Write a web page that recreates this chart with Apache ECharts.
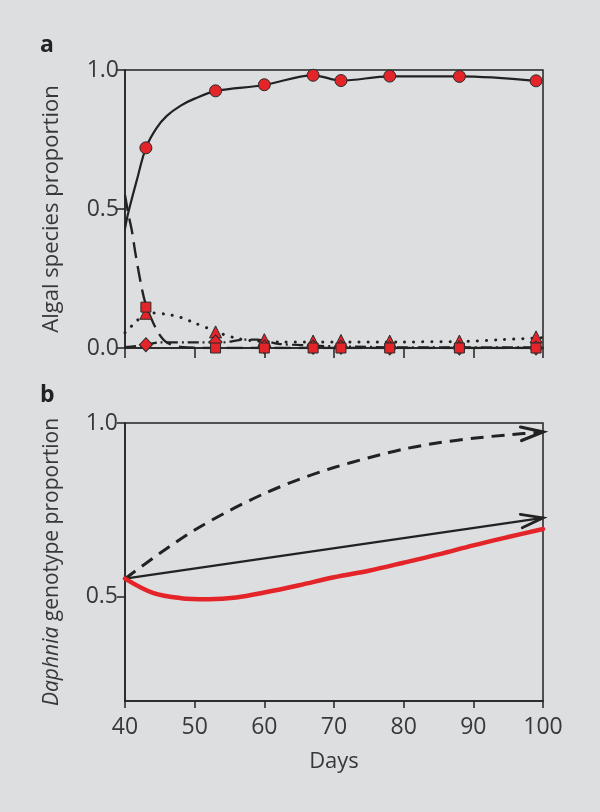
<!DOCTYPE html>
<html><head><meta charset="utf-8">
<script src="https://cdn.jsdelivr.net/npm/echarts@6/dist/echarts.min.js"></script>
<style>html,body{margin:0;padding:0;background:#dddee0}#c{width:600px;height:812px}</style>
</head><body><div id="c"></div>
<script>
// ---------- Panel a : algal species proportion ----------
const sampleDays = [43, 53, 60, 67, 71, 78, 88, 99];
const circleVals   = [0.72, 0.925, 0.947, 0.981, 0.962, 0.978, 0.977, 0.961];
const squareVals   = [0.147, 0, 0, 0, 0, 0, 0, 0];
const triangleVals = [0.125, 0.058, 0.03, 0.025, 0.027, 0.025, 0.025, 0.04];
const diamondVals  = [0.012, 0.022, 0.004, 0.003, 0.003, 0.0, 0.0, 0.0];

// fitted curves
const solidFitDays = [40, 40.5, 41.7, 43, 44.5, 46, 48, 50, 53, 60, 67, 71, 78, 88, 99];
const solidFitVals = [0.43, 0.49, 0.604, 0.72, 0.79, 0.835, 0.872, 0.897, 0.924, 0.946, 0.981, 0.962, 0.977, 0.977, 0.961];
const dashFitDays = [40, 40.5, 41, 41.5, 42.4, 43, 43.7, 44.8, 46, 48, 53, 60, 70, 80, 90, 100];
const dashFitVals = [0.55, 0.48, 0.42, 0.34, 0.216, 0.155, 0.11, 0.054, 0.02, 0.004, 0, 0, 0, 0, 0, 0];
const dotFitDays = [40, 41.4, 42.5, 44, 46, 48, 50, 52, 54, 56, 58, 62, 70, 80, 88, 94, 100];
const dotFitVals = [0.055, 0.09, 0.115, 0.126, 0.121, 0.11, 0.09, 0.07, 0.05, 0.035, 0.027, 0.022, 0.022, 0.022, 0.023, 0.03, 0.037];
const dashDotFitDays = [40, 42, 43, 45, 49, 51, 54, 57, 59, 62, 66, 70, 75, 80, 90, 100];
const dashDotFitVals = [0.003, 0.008, 0.012, 0.02, 0.02, 0.02, 0.02, 0.03, 0.03, 0.015, 0.01, 0.006, 0.004, 0.002, 0.002, 0.002];

// ---------- Panel b : Daphnia genotype proportion ----------
const redDays = [40, 44, 48, 52, 56, 60, 65, 70, 75, 80, 85, 90, 95, 100];
const redVals = [0.552, 0.511, 0.496, 0.493, 0.498, 0.512, 0.533, 0.556, 0.575, 0.598, 0.622, 0.648, 0.672, 0.695];
const dashedArrowDays = [40, 45, 50, 55, 60, 65, 70, 75, 80, 85, 90, 95, 100];
const dashedArrowVals = [0.552, 0.625, 0.692, 0.748, 0.797, 0.838, 0.872, 0.9, 0.925, 0.943, 0.956, 0.966, 0.974];
const solidArrowDays = [40, 100];
const solidArrowVals = [0.552, 0.727];

const xTicks = [40, 50, 60, 70, 80, 90, 100];
const yTicksA = [0, 0.5, 1.0];
const yTicksB = [0.5, 1.0];

const FONT = '"Open Sans", "DejaVu Sans", sans-serif';
const INK = '#222';
const TXT = '#383838';
const RED = '#e3252a';

const zip = (xs, ys) => xs.map((x, i) => [x, ys[i]]);

const chart = echarts.init(document.getElementById('c'), null, {renderer: 'canvas'});

function lineSer(xi, data, lineStyle, extra) {
  return Object.assign({
    type: 'line', xAxisIndex: xi, yAxisIndex: xi, data: data,
    symbol: 'none', lineStyle: lineStyle, silent: true, animation: false, z: 2
  }, extra || {});
}
function markerSer(data, symbol, size) {
  return {
    type: 'scatter', xAxisIndex: 0, yAxisIndex: 0, data: data, symbol: symbol, symbolSize: size,
    itemStyle: {color: RED, borderColor: '#2a2a2a', borderWidth: 1, opacity: 1},
    silent: true, animation: false, z: 3, clip: false
  };
}
function arrowSer(days, vals, color, lw) {
  const n = days.length;
  return {
    type: 'custom', xAxisIndex: 1, yAxisIndex: 1, clip: false, silent: true, animation: false, z: 5,
    encode: {x: [0, 2], y: [1, 3]},
    data: [[days[n - 2], vals[n - 2], days[n - 1], vals[n - 1]]],
    renderItem: function (params, api) {
      const a = api.coord([api.value(0), api.value(1)]);
      const b = api.coord([api.value(2), api.value(3)]);
      const ang = Math.atan2(b[1] - a[1], b[0] - a[0]);
      const L = 23, h = 0.3;
      const p1 = [b[0] - L * Math.cos(ang - h), b[1] - L * Math.sin(ang - h)];
      const p2 = [b[0] - L * Math.cos(ang + h), b[1] - L * Math.sin(ang + h)];
      return {type: 'polyline', shape: {points: [p1, b, p2]},
        style: {stroke: color, lineWidth: lw, fill: null, lineJoin: 'miter', lineCap: 'round'}};
    }
  };
}

const axisLineStyle = {color: INK, width: 1.5};
const option = {
  backgroundColor: '#dddee0',
  animation: false,
  textStyle: {fontFamily: FONT},
  grid: [
    {left: 125, top: 70, width: 418, height: 278, show: true, borderColor: INK, borderWidth: 1.5, backgroundColor: 'transparent'},
    {left: 125, top: 423, width: 418, height: 278, show: true, borderColor: INK, borderWidth: 1.5, backgroundColor: 'transparent'}
  ],
  xAxis: [
    {gridIndex: 0, type: 'value', min: xTicks[0], max: xTicks[xTicks.length - 1], interval: 10,
      axisLine: {show: true, onZero: false, lineStyle: axisLineStyle},
      axisTick: {show: true, length: 10, lineStyle: axisLineStyle},
      axisLabel: {show: false}, splitLine: {show: false}},
    {gridIndex: 1, type: 'value', min: xTicks[0], max: xTicks[xTicks.length - 1], interval: 10,
      axisLine: {show: true, onZero: false, lineStyle: axisLineStyle},
      axisTick: {show: true, length: 7, lineStyle: axisLineStyle},
      axisLabel: {show: true, fontSize: 23, color: TXT, margin: 15, fontFamily: FONT},
      splitLine: {show: false},
      name: 'Days', nameLocation: 'middle', nameGap: 50,
      nameTextStyle: {fontSize: 22, color: TXT, fontFamily: FONT}}
  ],
  yAxis: [
    {gridIndex: 0, type: 'value', min: 0, max: 1, interval: 0.5,
      axisLine: {show: true, onZero: false, lineStyle: axisLineStyle},
      axisTick: {show: true, length: 9, lineStyle: axisLineStyle, customValues: yTicksA},
      axisLabel: {show: true, fontSize: 23, color: TXT, margin: 6, fontFamily: FONT,
        customValues: yTicksA, formatter: v => Number(v).toFixed(1)},
      splitLine: {show: false},
      name: 'Algal species proportion', nameLocation: 'middle', nameGap: 62,
      nameTextStyle: {fontSize: 22, color: TXT, fontFamily: FONT}},
    {gridIndex: 1, type: 'value', min: 0.2, max: 1.0,
      axisLine: {show: true, onZero: false, lineStyle: axisLineStyle},
      axisTick: {show: true, length: 8, lineStyle: axisLineStyle, customValues: yTicksB},
      axisLabel: {show: true, fontSize: 23, color: TXT, margin: 7, fontFamily: FONT,
        customValues: yTicksB, formatter: v => Number(v).toFixed(1)},
      splitLine: {show: false},
      name: '{i|Daphnia} genotype proportion', nameLocation: 'middle', nameGap: 62,
      nameTextStyle: {fontSize: 21, color: TXT, fontFamily: FONT,
        rich: {i: {fontStyle: 'italic', fontSize: 21, color: TXT, fontFamily: FONT}}}}
  ],
  graphic: [
    {type: 'text', left: 40, top: 34, style: {text: 'a', font: 'bold 23px ' + FONT, fill: INK}},
    {type: 'text', left: 40, top: 384, style: {text: 'b', font: 'bold 23px ' + FONT, fill: INK}}
  ],
  series: [
    // panel a fitted curves
    lineSer(0, zip(dashDotFitDays, dashDotFitVals), {color: INK, width: 2.2, type: [11, 4, 2, 4]}, {smooth: 0.3}),
    lineSer(0, zip(dotFitDays, dotFitVals), {color: INK, width: 3, type: [0.1, 9], cap: 'round'}, {smooth: 0.3}),
    lineSer(0, zip(dashFitDays, dashFitVals), {color: INK, width: 2.4, type: [16, 8]}, {smooth: 0.3}),
    lineSer(0, zip(solidFitDays, solidFitVals), {color: INK, width: 2.2, type: 'solid'}, {smooth: 0.35}),
    // panel a markers
    markerSer(zip(sampleDays, circleVals), 'circle', 12),
    markerSer(zip(sampleDays, triangleVals), 'triangle', 12),
    markerSer(zip(sampleDays, diamondVals), 'diamond', [13, 14]),
    markerSer(zip(sampleDays, squareVals), 'rect', 10),
    // panel b
    lineSer(1, zip(dashedArrowDays, dashedArrowVals), {color: INK, width: 3, type: [13, 8]}, {smooth: 0.3}),
    lineSer(1, zip(solidArrowDays, solidArrowVals), {color: INK, width: 2.2}),
    lineSer(1, zip(redDays, redVals), {color: RED, width: 4.5, cap: 'round'}, {smooth: 0.35, z: 3}),
    arrowSer(dashedArrowDays, dashedArrowVals, INK, 3.2),
    arrowSer(solidArrowDays, solidArrowVals, INK, 2.8)
  ]
};
chart.setOption(option);
</script>
</body></html>
